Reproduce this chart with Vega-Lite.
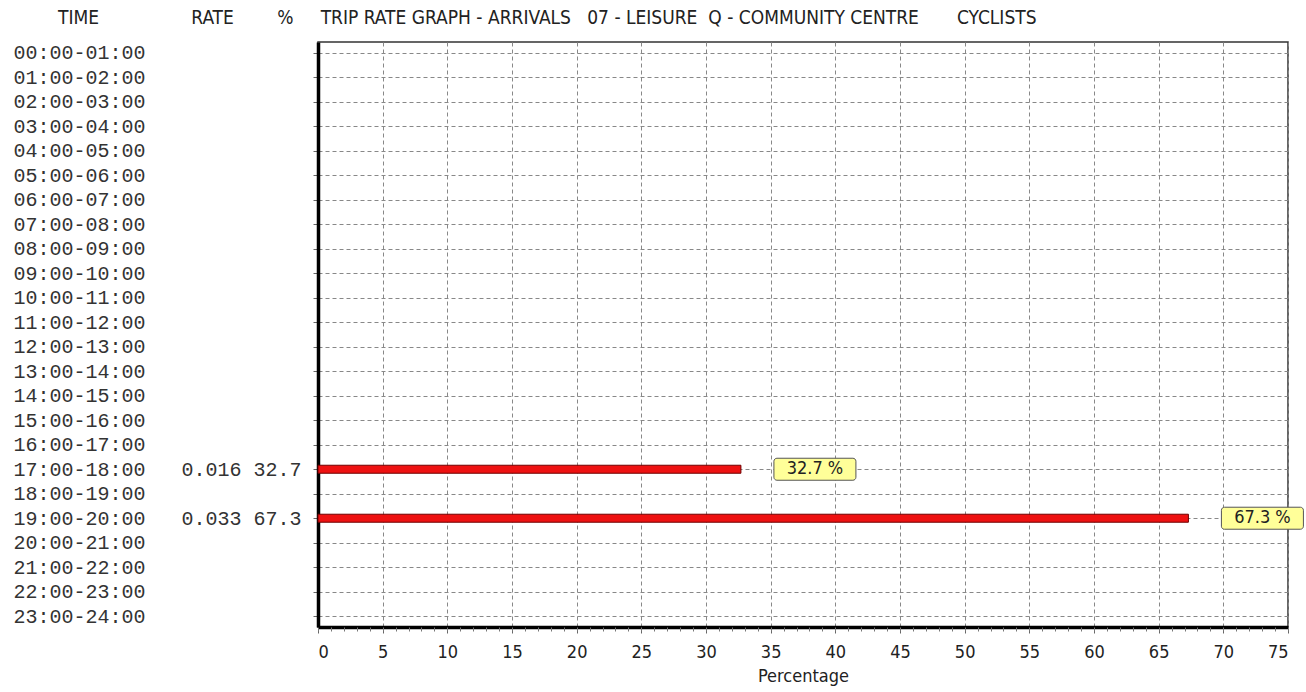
{
  "$schema": "https://vega.github.io/schema/vega-lite/v6.json",
  "width": 970,
  "height": 585,
  "autosize": {"type": "none"},
  "padding": {"left": 318, "top": 42, "right": 18, "bottom": 65},
  "background": "white",
  "title": {
    "text": "TIME\u00a0\u00a0\u00a0\u00a0\u00a0\u00a0\u00a0\u00a0\u00a0\u00a0\u00a0\u00a0\u00a0\u00a0\u00a0\u00a0\u00a0RATE\u00a0\u00a0\u00a0\u00a0\u00a0\u00a0\u00a0\u00a0%\u00a0\u00a0\u00a0\u00a0\u00a0TRIP RATE GRAPH - ARRIVALS\u00a0\u00a0\u00a007 - LEISURE\u00a0\u00a0Q - COMMUNITY CENTRE\u00a0\u00a0\u00a0\u00a0\u00a0\u00a0\u00a0CYCLISTS",
    "anchor": "start",
    "frame": "group",
    "dx": -260,
    "offset": 14,
    "font": "Liberation Sans Narrow, DejaVu Sans Condensed, sans-serif",
    "fontSize": 19,
    "fontWeight": "normal",
    "color": "#222"
  },
  "data": {
    "values": [
      {"time": "00:00-01:00", "rate": null, "pct": null},
      {"time": "01:00-02:00", "rate": null, "pct": null},
      {"time": "02:00-03:00", "rate": null, "pct": null},
      {"time": "03:00-04:00", "rate": null, "pct": null},
      {"time": "04:00-05:00", "rate": null, "pct": null},
      {"time": "05:00-06:00", "rate": null, "pct": null},
      {"time": "06:00-07:00", "rate": null, "pct": null},
      {"time": "07:00-08:00", "rate": null, "pct": null},
      {"time": "08:00-09:00", "rate": null, "pct": null},
      {"time": "09:00-10:00", "rate": null, "pct": null},
      {"time": "10:00-11:00", "rate": null, "pct": null},
      {"time": "11:00-12:00", "rate": null, "pct": null},
      {"time": "12:00-13:00", "rate": null, "pct": null},
      {"time": "13:00-14:00", "rate": null, "pct": null},
      {"time": "14:00-15:00", "rate": null, "pct": null},
      {"time": "15:00-16:00", "rate": null, "pct": null},
      {"time": "16:00-17:00", "rate": null, "pct": null},
      {"time": "17:00-18:00", "rate": 0.016, "pct": 32.7},
      {"time": "18:00-19:00", "rate": null, "pct": null},
      {"time": "19:00-20:00", "rate": 0.033, "pct": 67.3},
      {"time": "20:00-21:00", "rate": null, "pct": null},
      {"time": "21:00-22:00", "rate": null, "pct": null},
      {"time": "22:00-23:00", "rate": null, "pct": null},
      {"time": "23:00-24:00", "rate": null, "pct": null}
    ]
  },
  "transform": [
    {"calculate": "datum.rate != null ? datum.time + '\u00a0\u00a0\u00a0' + format(datum.rate, '.3f') + '\u00a0' + format(datum.pct, '.1f') : datum.time", "as": "lab"},
    {"calculate": "datum.pct != null ? format(datum.pct, '.1f') + ' %' : ''", "as": "pctLabel"}
  ],
  "encoding": {
    "y": {
      "field": "lab",
      "type": "ordinal",
      "sort": "ascending",
      "scale": {"type": "point", "padding": 0.44},
      "axis": {
        "title": null,
        "labelFont": "Liberation Mono, monospace",
        "labelFontSize": 20,
        "labelColor": "#333",
        "labelAlign": "left",
        "labelBaseline": "middle",
        "labelPadding": 300,
        "labelLimit": 600,
        "tickSize": 5,
        "tickColor": "#666",
        "domainColor": "#000",
        "domainWidth": 3.5,
        "grid": true,
        "gridColor": "#888",
        "gridDash": [4, 3],
        "gridWidth": 1
      }
    }
  },
  "layer": [
    {
      "mark": {"type": "tick", "opacity": 0},
      "encoding": {}
    },
    {
      "transform": [{"filter": "datum.pct != null"}],
      "mark": {"type": "bar", "height": 8, "fill": "#ee1111", "stroke": "#700000", "strokeWidth": 1},
      "encoding": {
        "x": {
          "field": "pct",
          "type": "quantitative",
          "scale": {"domain": [0, 75], "nice": false},
          "axis": {
            "orient": "bottom",
            "title": "Percentage",
            "values": [0, 5, 10, 15, 20, 25, 30, 35, 40, 45, 50, 55, 60, 65, 70, 75],
            "titleFont": "Liberation Sans Narrow, DejaVu Sans Condensed, sans-serif",
            "titleFontSize": 18,
            "titleFontWeight": "normal",
            "titleColor": "#222",
            "titlePadding": 6,
            "labelFont": "Liberation Sans Narrow, DejaVu Sans Condensed, sans-serif",
            "labelFontSize": 18,
            "labelColor": "#222",
            "labelPadding": 10,
            "tickSize": 6,
            "tickColor": "#666",
            "domainColor": "#000",
            "domainWidth": 3.5,
            "grid": true,
            "gridColor": "#888",
            "gridDash": [4, 3],
            "gridWidth": 1
          }
        }
      }
    },
    {
      "transform": [{"filter": "datum.pct != null"}],
      "mark": {"type": "bar", "height": 22, "xOffset": 33, "x2Offset": 115, "fill": "#ffff99", "stroke": "#555", "strokeWidth": 1, "cornerRadius": 3},
      "encoding": {
        "x": {"field": "pct", "type": "quantitative", "axis": null},
        "x2": {"field": "pct"}
      }
    },
    {
      "transform": [{"filter": "datum.pct != null"}],
      "mark": {"type": "text", "dx": 74, "align": "center", "baseline": "middle", "font": "Liberation Sans Narrow, DejaVu Sans Condensed, sans-serif", "fontSize": 18, "color": "#222"},
      "encoding": {
        "x": {
          "field": "pct",
          "type": "quantitative",
          "axis": {
            "orient": "bottom",
            "title": null,
            "values": [0,1,2,3,4,5,6,7,8,9,10,11,12,13,14,15,16,17,18,19,20,21,22,23,24,25,26,27,28,29,30,31,32,33,34,35,36,37,38,39,40,41,42,43,44,45,46,47,48,49,50,51,52,53,54,55,56,57,58,59,60,61,62,63,64,65,66,67,68,69,70,71,72,73,74,75],
            "labels": false,
            "grid": false,
            "domain": false,
            "ticks": true,
            "tickSize": 4,
            "tickColor": "#777"
          }
        },
        "text": {"field": "pctLabel"}
      }
    }
  ],
  "resolve": {"axis": {"x": "independent"}},
  "config": {
    "view": {"stroke": "#333", "strokeWidth": 1.5}
  }
}
